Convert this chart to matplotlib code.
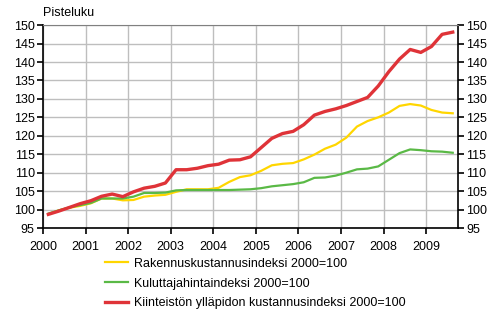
import matplotlib
matplotlib.use("Agg")
import matplotlib.pyplot as plt
import numpy as np

plt.rcParams['font.family'] = ['Liberation Sans', 'DejaVu Sans']

# neljännesvuosittaiset arvot (luettu kuvasta)
years = list(range(2000, 2010))
quarters = [0.125, 0.375, 0.625, 0.875]
t = [y + q for y in years for q in quarters][:39]

rakennus = [98.8, 99.8, 100.5, 101.0,
            101.7, 103.0, 103.0, 102.5,
            102.6, 103.5, 103.8, 104.0,
            104.8, 105.5, 105.5, 105.5,
            105.9, 107.5, 108.8, 109.3,
            110.5, 112.0, 112.4, 112.6,
            113.6, 114.9, 116.5, 117.6,
            119.5, 122.5, 124.0, 125.0,
            126.3, 128.1, 128.6, 128.2,
            127.0, 126.3, 126.1]

kuluttaja = [98.9, 99.8, 100.6, 101.2,
             101.8, 103.0, 103.0, 103.0,
             103.5, 104.5, 104.5, 104.6,
             105.2, 105.3, 105.3, 105.3,
             105.3, 105.3, 105.4, 105.5,
             105.8, 106.3, 106.6, 106.9,
             107.4, 108.6, 108.7, 109.2,
             110.0, 110.9, 111.1, 111.7,
             113.5, 115.3, 116.3, 116.1,
             115.8, 115.7, 115.4]

kiinteisto = [98.7, 99.6, 100.6, 101.6,
              102.4, 103.6, 104.2, 103.5,
              104.8, 105.8, 106.3, 107.2,
              110.8, 110.8, 111.2, 111.9,
              112.3, 113.4, 113.5, 114.3,
              116.8, 119.3, 120.6, 121.2,
              123.0, 125.6, 126.6, 127.3,
              128.2, 129.3, 130.4, 133.5,
              137.4, 140.8, 143.4, 142.6,
              144.2, 147.5, 148.1]

labels = ["Rakennuskustannusindeksi 2000=100",
          "Kuluttajahintaindeksi 2000=100",
          "Kiinteistön ylläpidon kustannusindeksi 2000=100"]

fig = plt.figure(figsize=(4.9, 3.18), dpi=100)
ax = fig.add_axes([0.0878, 0.283, 0.847, 0.638])

l1, = ax.plot(t, rakennus, color='#FFD600', lw=1.6)
l2, = ax.plot(t, kuluttaja, color='#5AB946', lw=1.6)
l3, = ax.plot(t, kiinteisto, color='#DF3338', lw=2.4)

ax.set_xlim(2000, 2009.75)
ax.set_ylim(95, 150)
ax.set_xticks(years)
ax.set_yticks(range(95, 151, 5))
ax.grid(True, color='#BEBEBE', lw=1)
ax.set_axisbelow(True)

for s in ['left', 'right', 'bottom']:
    ax.spines[s].set_color('black')
    ax.spines[s].set_linewidth(1.2)
ax.spines['top'].set_color('#808080')

ax.tick_params(axis='y', which='both', left=True, right=True,
               labelleft=True, labelright=True, direction='out',
               length=4, width=1.2, labelsize=9, pad=2)
ax.tick_params(axis='x', direction='out', length=4, width=1.2,
               labelsize=9, pad=5)

ax.text(0.0, 1.03, "Pisteluku", transform=ax.transAxes, fontsize=9,
        ha='left', va='bottom')

fig.legend([l1, l2, l3], labels, loc='upper left',
           bbox_to_anchor=(0.205, 0.205), frameon=False, fontsize=9,
           handlelength=1.8, handletextpad=0.5, labelspacing=0.62,
           borderaxespad=0)

fig.savefig("out.png", dpi=100)
